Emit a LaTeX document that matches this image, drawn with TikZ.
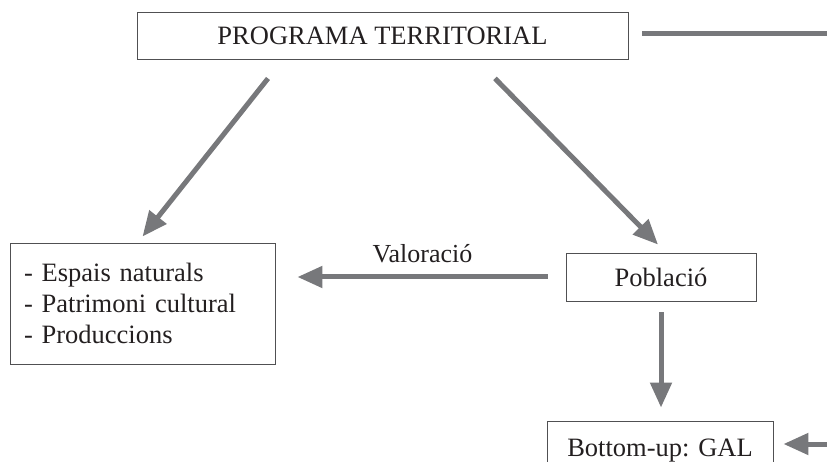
\documentclass[tikz,border=0pt]{standalone}
\usepackage{fontspec}
\setmainfont{Liberation Serif}
\usetikzlibrary{arrows.meta,calc}
\definecolor{arrowgray}{RGB}{119,120,123}
\definecolor{boxline}{RGB}{80,80,82}
\definecolor{textcol}{RGB}{35,31,32}
\begin{document}
\begin{tikzpicture}[x=1pt,y=-1pt,
  box/.style={draw=boxline, line width=0.9pt, rectangle, inner sep=0pt, text=textcol,
    font=\fontsize{26.5}{31}\selectfont},
  garrow/.style={draw=arrowgray, line width=5pt, -{Triangle[length=25pt,width=21pt]}},
  gline/.style={draw=arrowgray, line width=5pt},
  lbl/.style={text=textcol, font=\fontsize{26}{31}\selectfont, inner sep=0pt}]
\useasboundingbox (0,0) rectangle (827,462);
\node[box, minimum width=491pt, minimum height=47pt] (P) at (382.5,35.5) {PROGRAMA TERRITORIAL};
\node[box, minimum width=265pt, minimum height=121pt, align=left, text width=237pt, inner xsep=14pt] (E) at (142.5,303.5)
  {- Espais naturals\\- Patrimoni cultural\\- Produccions};
\node[box, minimum width=190pt, minimum height=48pt] (Pob) at (661,277) {Població};
\node[box, minimum width=226pt, minimum height=60pt] (GAL) at (660,451) {Bottom-up: GAL};
\coordinate (topright) at (827,34);
\coordinate (botright) at (827,444);
\draw[gline] ([xshift=14pt,yshift=1.5pt]P.east) -- (topright);
\draw[garrow] ([xshift=-114.5pt,yshift=-19pt]P.south) -- ([yshift=6pt]E.north);
\draw[garrow] ([xshift=112.5pt,yshift=-19pt]P.south) -- ([xshift=-3pt,yshift=8pt]Pob.north);
\draw[garrow] ([xshift=-18pt]Pob.west) -- node[lbl, midway, above=12pt] {Valoració} ([xshift=22pt,yshift=26.5pt]E.east);
\draw[garrow] ([yshift=-11pt]Pob.south) -- ([xshift=1pt,yshift=13pt]GAL.north);
\draw[garrow] (botright) -- ([xshift=10pt,yshift=7pt]GAL.east);
\end{tikzpicture}
\end{document}
